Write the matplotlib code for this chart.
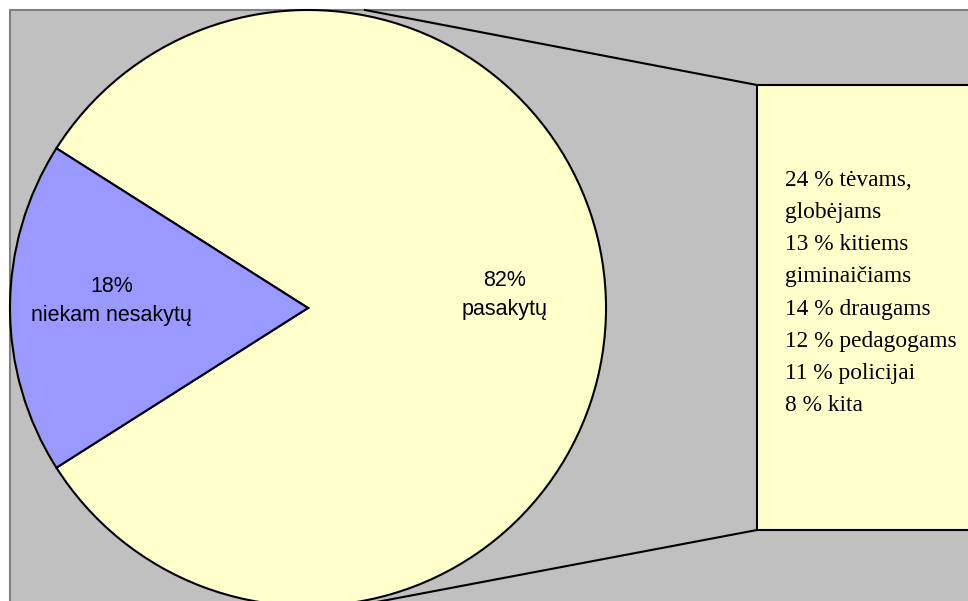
import matplotlib
matplotlib.use("Agg")
import matplotlib.pyplot as plt
from matplotlib.patches import Rectangle

# Data
pie_labels = ["pasakytų", "niekam nesakytų"]
pie_values = [82, 18]
pie_colors = ["#FFFFCC", "#9999FF"]
detail_labels = ["tėvams,\nglobėjams", "kitiems\ngiminaičiams", "draugams",
                 "pedagogams", "policijai", "kita"]
detail_values = [24, 13, 14, 12, 11, 8]

W, H = 968, 601
fig = plt.figure(figsize=(W / 100, H / 100), dpi=100)
ax = fig.add_axes([0, 0, 1, 1])

# gray plot background
ax.add_patch(Rectangle((10, -5), W + 10, H - 10 + 5, facecolor="#C0C0C0",
                       edgecolor="#808080", lw=1.5, zorder=0))

cx, cy, r = 308, H - 308, 298
span = pie_values[1] / 100 * 360
start = 180 + span / 2
wedges, texts = ax.pie(pie_values, colors=pie_colors, startangle=start,
                       center=(cx, cy), radius=r, counterclock=True,
                       labels=[f"{v}%\n{l}" for v, l in zip(pie_values, pie_labels)],
                       labeldistance=0.66,
                       wedgeprops=dict(edgecolor="black", linewidth=1.5),
                       textprops=dict(fontsize=15.5, family="Liberation Sans",
                                      ha="center", va="center", linespacing=1.45),
                       frame=True)
for t, dy in zip(texts, [13, 7]):
    x, y = t.get_position()
    t.set_position((x, y + dy))
ax.set_xlim(0, W)
ax.set_ylim(0, H)
ax.set_aspect("equal")
ax.axis("off")

# detail box
bx0, by0, bx1, by1 = 757, H - 530, W + 5, H - 85
ax.add_patch(Rectangle((bx0, by0), bx1 - bx0, by1 - by0, facecolor="#FFFFCC",
                       edgecolor="black", lw=1.5, zorder=3))
ax.plot([365, bx0], [H - 10, by1], color="black", lw=1.5, zorder=2)
ax.plot([345, bx0], [H - 608, by0], color="black", lw=1.5, zorder=2,
        clip_on=True)

lines = []
for v, l in zip(detail_values, detail_labels):
    parts = l.split("\n")
    lines.append(f"{v} % {parts[0]}")
    lines.extend(parts[1:])
ax.text(785, H - 293, "\n".join(lines), fontsize=16.8, family="Liberation Serif",
        ha="left", va="center", linespacing=1.70, zorder=4)
fig.savefig("out.png", dpi=100)
